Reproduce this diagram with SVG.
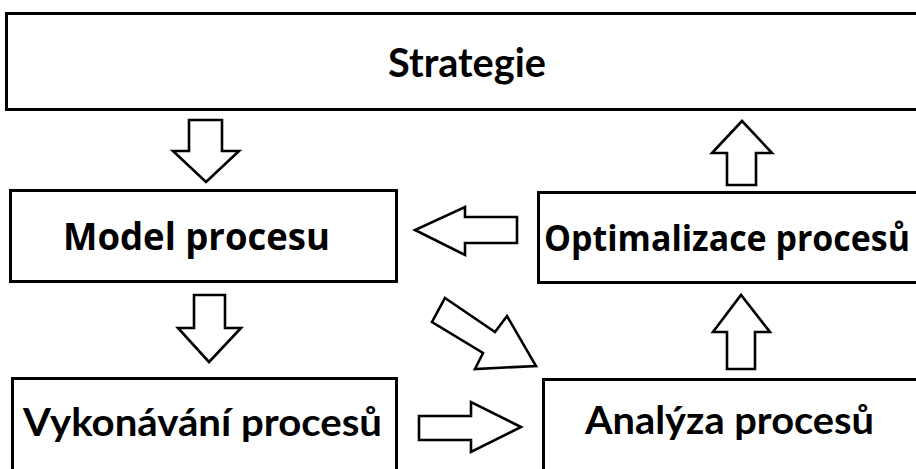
<svg xmlns="http://www.w3.org/2000/svg" width="916" height="469" viewBox="0 0 916 469">
  <style>
    .box { fill: #ffffff; stroke: #000000; stroke-width: 3; }
    .arrow { fill: #ffffff; stroke: #000000; stroke-width: 2.6; stroke-linejoin: miter; }
    .lbl-a { font-family: Lato, "Liberation Sans", sans-serif; font-weight: bold; fill: #000000; }
    .lbl-b { font-family: "Open Sans", "Noto Sans", sans-serif; font-weight: bold; fill: #000000; }
  </style>
  <rect width="916" height="469" fill="#ffffff"/>

  <g id="strategie">
    <rect class="box" x="6.5" y="13.5" width="920" height="96"/>
    <text class="lbl-a" x="388" y="77" font-size="40" textLength="158" lengthAdjust="spacingAndGlyphs">Strategie</text>
  </g>

  <g id="model-procesu">
    <rect class="box" x="10.5" y="190.5" width="386" height="91"/>
    <text class="lbl-b" x="63" y="250" font-size="37" textLength="267" lengthAdjust="spacingAndGlyphs">Model procesu</text>
  </g>

  <g id="optimalizace-procesu">
    <rect class="box" x="538.5" y="192.5" width="390" height="90"/>
    <text class="lbl-b" x="544" y="251" font-size="36" textLength="366" lengthAdjust="spacingAndGlyphs">Optimalizace procesů</text>
  </g>

  <g id="vykonavani-procesu">
    <rect class="box" x="12.5" y="378.5" width="384" height="100"/>
    <text class="lbl-a" x="23" y="436" font-size="39" textLength="359" lengthAdjust="spacingAndGlyphs">Vykonávání procesů</text>
  </g>

  <g id="analyza-procesu">
    <rect class="box" x="543.5" y="379.5" width="390" height="100"/>
    <text class="lbl-a" x="585" y="434" font-size="39" textLength="289" lengthAdjust="spacingAndGlyphs">Analýza procesů</text>
  </g>

  <g id="connectors">
    <!-- Strategie -> Model procesu -->
    <polygon class="arrow" points="189,120 222,120 222,151 239,151 206,182 173,151 189,151"/>
    <!-- Model procesu -> Vykonávání procesů -->
    <polygon class="arrow" points="194,295 225,295 225,328 241,328 209,362 178,328 194,328"/>
    <!-- Optimalizace procesů -> Model procesu -->
    <polygon class="arrow" points="517,217 517,243 465,243 465,255 415,230 465,207 465,217"/>
    <!-- Vykonávání procesů -> Analýza procesů -->
    <polygon class="arrow" points="419,416 471,416 471,402 521,427 471,452 471,440 419,440"/>
    <!-- Optimalizace procesů -> Strategie -->
    <polygon class="arrow" points="727,185 756,185 756,153 772,153 742,121 712,153 727,153"/>
    <!-- Analýza procesů -> Optimalizace procesů -->
    <polygon class="arrow" points="727,369 755,369 755,332 770,332 741,295 713,332 727,332"/>
    <!-- Model procesu -> Analýza procesů -->
    <polygon class="arrow" points="445,298 495,332 507,316 536,366 475,369 483,353 432,322"/>
  </g>
</svg>
